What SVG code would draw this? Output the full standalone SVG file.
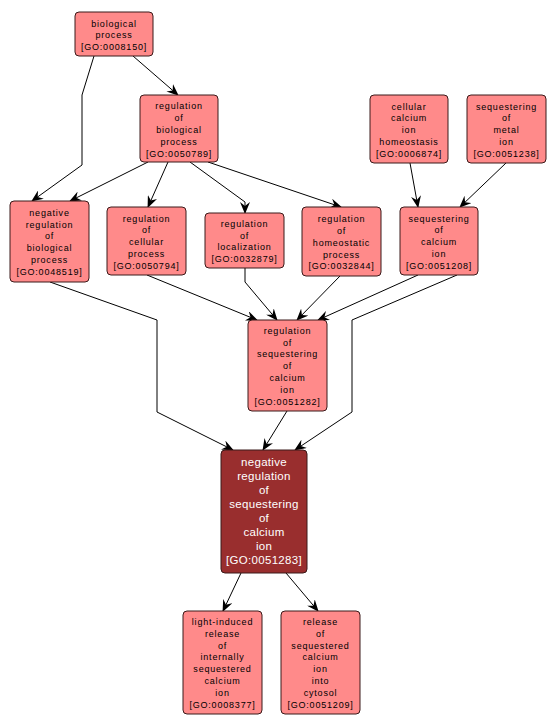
<svg xmlns="http://www.w3.org/2000/svg" width="556" height="727" viewBox="0 0 556 727">
<style>
.n rect{fill:#ff8a8a;stroke:#3a1a1a;stroke-width:1}
.d rect{fill:#992e2e;stroke:#3a1a1a;stroke-width:1}
text{font-family:"Liberation Sans",Arial,sans-serif;text-anchor:middle}
.n text{font-size:9px;letter-spacing:0.8px;fill:#000}
.d text{font-size:11.5px;letter-spacing:0.3px;fill:#fff}
.e path{fill:none;stroke:#000;stroke-width:1;marker-end:url(#a)}
</style>
<defs>
<marker id="a" viewBox="0 0 12 10" refX="11" refY="5" markerWidth="12" markerHeight="10" markerUnits="userSpaceOnUse" orient="auto">
<path d="M0,0 L12,5 L0,10 L4,5 z" fill="#000"/>
</marker>
</defs>
<rect width="556" height="727" fill="#fff"/>
<g class="e">
<path d="M133,56 L178,95"/>
<path d="M94,56 L82,95 L82,165 L32,201"/>
<path d="M148,162 L70,201"/>
<path d="M168,162 L148,207"/>
<path d="M190,162 L245,202 L245,213"/>
<path d="M208,162 L341,207"/>
<path d="M410,163 L418,207"/>
<path d="M506,163 L460,207"/>
<path d="M50,282 L157,320 L157,412 L233,450"/>
<path d="M147,275 L257,320"/>
<path d="M245,268 L245,282 L277,320"/>
<path d="M340,276 L297,320"/>
<path d="M418,275 L318,320"/>
<path d="M457,275 L352,320 L352,412 L295,450"/>
<path d="M287,411 L263,450"/>
<path d="M241,573 L223,611"/>
<path d="M286,573 L318,611"/>
</g>
<g id="n1" class="n"><rect x="75" y="12" width="78" height="44" rx="4"/>
<text x="114" y="26.5">biological</text><text x="114" y="38.3">process</text><text x="114" y="50.1">[GO:0008150]</text></g>
<g id="n2" class="n"><rect x="140" y="95" width="78" height="67" rx="4"/>
<text x="179" y="109.3">regulation</text><text x="179" y="121.1">of</text><text x="179" y="132.9">biological</text><text x="179" y="144.7">process</text><text x="179" y="156.5">[GO:0050789]</text></g>
<g id="n3" class="n"><rect x="370" y="95" width="78" height="68" rx="4"/>
<text x="409" y="109.6">cellular</text><text x="409" y="121.4">calcium</text><text x="409" y="133.2">ion</text><text x="409" y="145">homeostasis</text><text x="409" y="156.8">[GO:0006874]</text></g>
<g id="n4" class="n"><rect x="467" y="95" width="79" height="68" rx="4"/>
<text x="506.5" y="109.6">sequestering</text><text x="506.5" y="121.4">of</text><text x="506.5" y="133.2">metal</text><text x="506.5" y="145">ion</text><text x="506.5" y="156.8">[GO:0051238]</text></g>
<g id="n5" class="n"><rect x="400" y="207" width="78" height="68" rx="4"/>
<text x="439" y="221.6">sequestering</text><text x="439" y="233.4">of</text><text x="439" y="245.2">calcium</text><text x="439" y="257">ion</text><text x="439" y="268.8">[GO:0051208]</text></g>
<g id="n6" class="n"><rect x="10" y="201" width="79" height="81" rx="4"/>
<text x="49.5" y="215.7">negative</text><text x="49.5" y="227.5">regulation</text><text x="49.5" y="239.3">of</text><text x="49.5" y="251.1">biological</text><text x="49.5" y="262.9">process</text><text x="49.5" y="274.7">[GO:0048519]</text></g>
<g id="n7" class="n"><rect x="107" y="207" width="79" height="68" rx="4"/>
<text x="146.5" y="221.6">regulation</text><text x="146.5" y="233.4">of</text><text x="146.5" y="245.2">cellular</text><text x="146.5" y="257">process</text><text x="146.5" y="268.8">[GO:0050794]</text></g>
<g id="n8" class="n"><rect x="205" y="213" width="79" height="55" rx="4"/>
<text x="244.5" y="226.8">regulation</text><text x="244.5" y="238.6">of</text><text x="244.5" y="250.4">localization</text><text x="244.5" y="262.2">[GO:0032879]</text></g>
<g id="n9" class="n"><rect x="302" y="207" width="79" height="69" rx="4"/>
<text x="341.5" y="222.1">regulation</text><text x="341.5" y="233.9">of</text><text x="341.5" y="245.7">homeostatic</text><text x="341.5" y="257.5">process</text><text x="341.5" y="269.3">[GO:0032844]</text></g>
<g id="n10" class="n"><rect x="248" y="320" width="79" height="91" rx="4"/>
<text x="287.5" y="333.8">regulation</text><text x="287.5" y="345.6">of</text><text x="287.5" y="357.4">sequestering</text><text x="287.5" y="369.2">of</text><text x="287.5" y="381">calcium</text><text x="287.5" y="392.8">ion</text><text x="287.5" y="404.6">[GO:0051282]</text></g>
<g id="n11" class="d"><rect x="221" y="450" width="86" height="123" rx="4"/>
<text x="264" y="465.6">negative</text><text x="264" y="479.6">regulation</text><text x="264" y="493.6">of</text><text x="264" y="507.6">sequestering</text><text x="264" y="521.6">of</text><text x="264" y="535.6">calcium</text><text x="264" y="549.6">ion</text><text x="264" y="563.6">[GO:0051283]</text></g>
<g id="n12" class="n"><rect x="183" y="611" width="79" height="103" rx="4"/>
<text x="222.5" y="624.9">light-induced</text><text x="222.5" y="636.7">release</text><text x="222.5" y="648.5">of</text><text x="222.5" y="660.3">internally</text><text x="222.5" y="672.1">sequestered</text><text x="222.5" y="683.9">calcium</text><text x="222.5" y="695.7">ion</text><text x="222.5" y="707.5">[GO:0008377]</text></g>
<g id="n13" class="n"><rect x="281" y="611" width="79" height="103" rx="4"/>
<text x="320.5" y="624.9">release</text><text x="320.5" y="636.7">of</text><text x="320.5" y="648.5">sequestered</text><text x="320.5" y="660.3">calcium</text><text x="320.5" y="672.1">ion</text><text x="320.5" y="683.9">into</text><text x="320.5" y="695.7">cytosol</text><text x="320.5" y="707.5">[GO:0051209]</text></g>
</svg>
